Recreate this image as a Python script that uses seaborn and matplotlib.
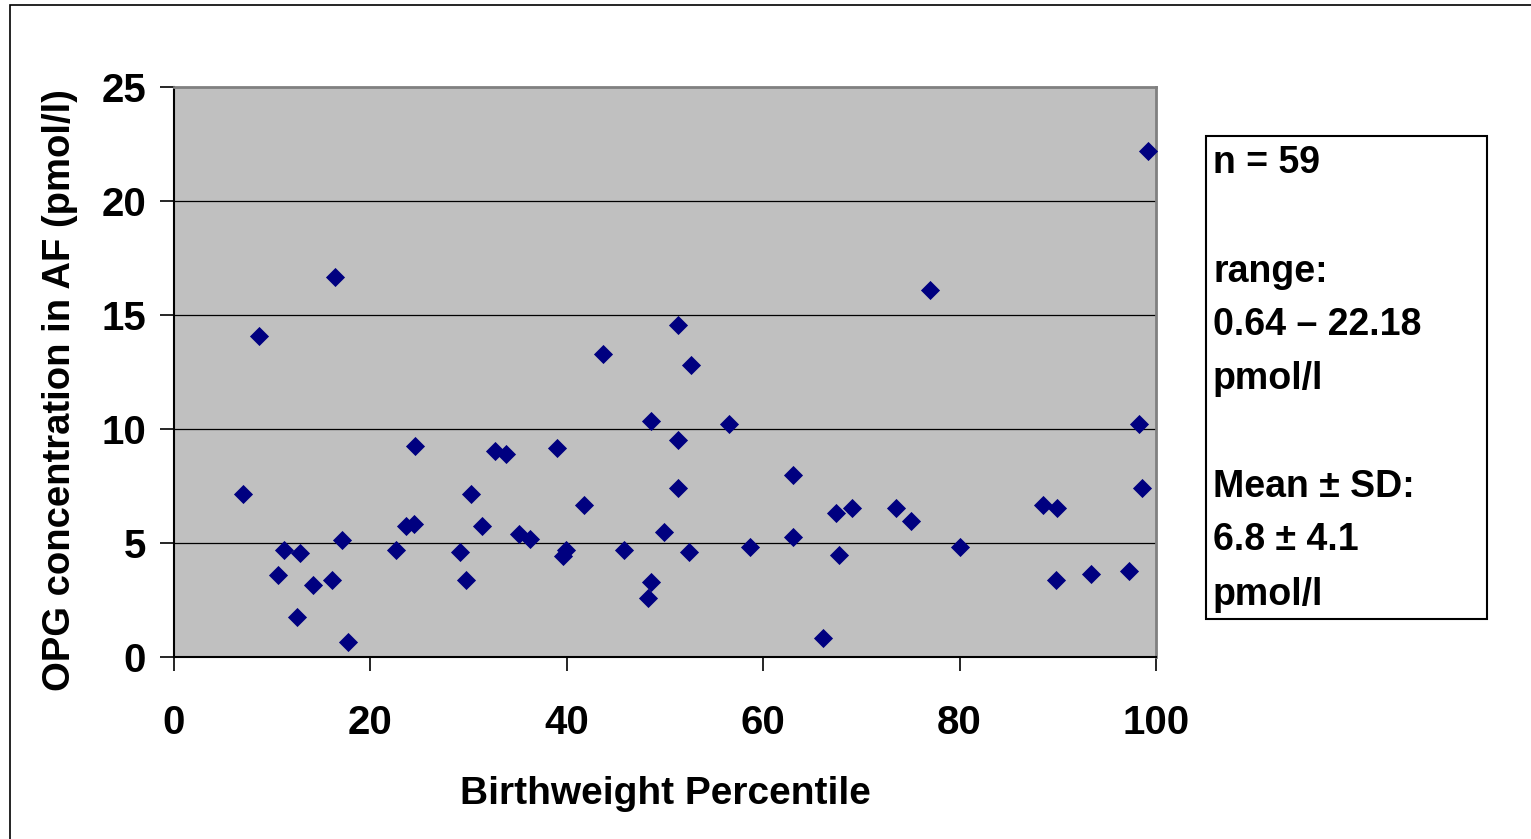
import matplotlib
matplotlib.use("Agg")
import matplotlib.pyplot as plt
import matplotlib.patches as patches
import seaborn as sns
import pandas as pd

# Birthweight percentile vs OPG concentration
percentile = [7.0, 8.7, 10.6, 11.2, 12.5, 12.8, 14.2, 16.1, 16.4, 17.1,
              17.7, 22.6, 23.6, 24.4, 24.5, 29.1, 29.7, 30.2, 31.4, 32.7,
              33.8, 35.1, 36.3, 39.0, 39.6, 39.9, 41.8, 43.7, 45.8, 48.3,
              48.6, 48.6, 49.9, 51.3, 51.3, 51.3, 52.4, 52.6, 56.5, 58.7,
              63.0, 63.0, 66.1, 67.4, 67.7, 69.0, 73.5, 75.1, 77.0, 80.0,
              88.5, 89.9, 89.8, 93.4, 97.3, 98.3, 98.6, 99.2]
opg = [7.15, 14.08, 3.60, 4.69, 1.75, 4.56, 3.16, 3.38, 16.67, 5.13,
       0.64, 4.69, 5.75, 5.83, 9.25, 4.60, 3.38, 7.15, 5.75, 9.04,
       8.90, 5.39, 5.18, 9.17, 4.43, 4.69, 6.67, 13.29, 4.69, 2.59,
       3.29, 10.35, 5.48, 14.56, 9.52, 7.41, 4.60, 12.80, 10.22, 4.82,
       7.98, 5.26, 0.83, 6.32, 4.47, 6.54, 6.54, 5.96, 16.10, 4.82,
       6.67, 6.54, 3.38, 3.64, 3.77, 10.22, 7.41, 22.18]

x_ticks = [0, 20, 40, 60, 80, 100]
y_ticks = [0, 5, 10, 15, 20, 25]

stats_lines = ["n = 59", "", "range:", "0.64 \u2013 22.18", "pmol/l", "",
               "Mean \u00b1 SD:", "6.8 \u00b1 4.1", "pmol/l"]

df = pd.DataFrame({"pct": percentile, "opg": opg})

sns.set_style("white")
plt.rcParams["font.family"] = ["Liberation Sans", "DejaVu Sans"]
plt.rcParams["font.weight"] = "bold"
plt.rcParams["text.color"] = "black"
plt.rcParams["axes.labelcolor"] = "black"
plt.rcParams["xtick.color"] = "black"
plt.rcParams["ytick.color"] = "black"

W, H = 1531, 839
fig = plt.figure(figsize=(W / 100, H / 100), dpi=100)
ax = fig.add_axes([174 / W, 1 - 657 / H, (1156 - 174) / W, (657 - 87) / H])
ax.set_facecolor("#C0C0C0")

sns.scatterplot(data=df, x="pct", y="opg", marker="D", s=95, color="#000080",
                edgecolor="#000080", linewidth=0, ax=ax, zorder=3, clip_on=False)

ax.set_xlim(0, 100)
ax.set_ylim(0, 25)
ax.set_xticks(x_ticks)
ax.set_yticks(y_ticks)
ax.tick_params(axis="both", direction="out", length=10, width=1.2, color="black",
               labelsize=29, bottom=True, left=True)
ax.tick_params(axis="y", pad=10)
ax.tick_params(axis="x", pad=24)
for lab in ax.get_xticklabels() + ax.get_yticklabels():
    lab.set_fontweight("bold")

# horizontal gridlines only
for yv in y_ticks[1:-1]:
    ax.axhline(yv, color="black", linewidth=0.9, zorder=1)

for side in ["left", "bottom"]:
    ax.spines[side].set_color("black")
    ax.spines[side].set_linewidth(1.5)
for side in ["top", "right"]:
    ax.spines[side].set_visible(True)
    ax.spines[side].set_color("#808080")
    ax.spines[side].set_linewidth(2)

ax.set_xlabel("Birthweight Percentile", fontsize=28, fontweight="bold", labelpad=24)
ax.set_ylabel("OPG concentration in AF (pmol/l)", fontsize=27.5, fontweight="bold")
ax.yaxis.set_label_coords(-0.098, 0.468)

# statistics box
box = patches.Rectangle((1206 / W, 1 - 619 / H), (1487 - 1206) / W, (619 - 136) / H,
                        transform=fig.transFigure, fill=False, edgecolor="black",
                        linewidth=1.5)
fig.patches.append(box)
line_y = [163, 218, 272, 325, 379, 433, 487, 540, 595]
for txt, ly in zip(stats_lines, line_y):
    if txt:
        fig.text(1213 / W, 1 - ly / H, txt, fontsize=27, fontweight="bold",
                 ha="left", va="center")

# outer chart border
frame = patches.Rectangle((10 / W, -0.01), 1.0, 1 - 5 / H + 0.01,
                          transform=fig.transFigure, fill=False,
                          edgecolor="black", linewidth=1.2)
fig.patches.append(frame)

fig.savefig("out.png", dpi=100)
